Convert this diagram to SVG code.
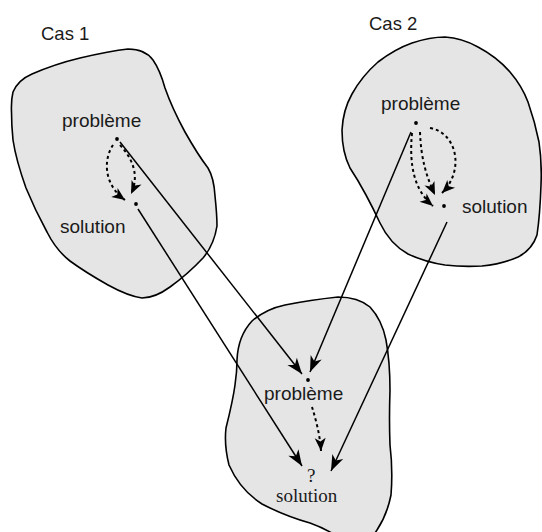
<svg xmlns="http://www.w3.org/2000/svg" width="542" height="532" viewBox="0 0 542 532">
  <style>
    .blob { fill: #e5e5e5; stroke: #000; stroke-width: 1.6; stroke-linejoin: round; }
    .sans { font-family: "Liberation Sans", Arial, Helvetica, sans-serif; font-size: 19px; fill: #1a1a1a; }
    .title { font-family: "Liberation Sans", Arial, Helvetica, sans-serif; font-size: 18.5px; fill: #1a1a1a; }
    .serif { font-family: "Liberation Serif", "Times New Roman", serif; font-size: 19px; fill: #1a1a1a; }
    .dot { fill: #000; }
    .link { fill: none; stroke: #000; stroke-width: 1.5; marker-end: url(#head); }
    .derive { fill: none; stroke: #000; stroke-width: 2; stroke-dasharray: 3 3; marker-end: url(#headSmall); }
  </style>
  <defs>
    <marker id="head" markerUnits="userSpaceOnUse" viewBox="-17 -8 18 16" refX="0" refY="0" markerWidth="18" markerHeight="16" orient="auto">
      <path d="M0,0 L-16,-6 L-11.5,0 L-16,6 Z" fill="#000"/>
    </marker>
    <marker id="headSmall" markerUnits="userSpaceOnUse" viewBox="-15 -7 16 14" refX="0" refY="0" markerWidth="16" markerHeight="14" orient="auto">
      <path d="M0,0 L-13,-5.5 L-9.5,0 L-13,5.5 Z" fill="#000"/>
    </marker>
  </defs>

  <!-- Case 1 -->
  <g id="cas1">
    <path class="blob" d="M 11.5,112 Q 11,100 13,92 Q 18,80 32,74 Q 55,64 80,58 Q 110,51 128,49 Q 145,49 153,60 Q 160,70 165,88 Q 172,108 185,132 Q 198,155 208,168 Q 214,178 215,196 Q 217,215 217,226 Q 214,245 203,258 Q 188,274 170,287 Q 155,298 142,298 Q 128,296 108,285 Q 85,272 70,261 Q 56,250 47,232 Q 35,210 26,188 Q 16,160 13,140 Q 11.5,125 11.5,112 Z"/>
    <text class="title" x="41" y="40">Cas 1</text>
    <g id="cas1-probleme">
      <text class="sans" x="62" y="127">problème</text>
      <circle class="dot" cx="117" cy="139" r="1.9"/>
    </g>
    <g id="cas1-solution">
      <text class="sans" x="60" y="233">solution</text>
      <circle class="dot" cx="136" cy="204" r="1.9"/>
    </g>
  </g>

  <!-- Case 2 -->
  <g id="cas2">
    <path class="blob" d="M 342,130 Q 343,110 352,94 Q 362,76 378,62 Q 395,49 412,43 Q 430,37 445,37 Q 462,38 478,47 Q 497,57 510,72 Q 522,86 528,102 Q 535,122 539,142 Q 542,162 541,185 Q 540,215 537,235 Q 532,250 518,257 Q 502,264 482,266 Q 462,267 445,265 Q 425,262 408,254 Q 390,244 380,223 Q 373,208 366,195 Q 358,180 350,168 Q 342,152 342,130 Z"/>
    <text class="title" x="369" y="30">Cas 2</text>
    <g id="cas2-probleme">
      <text class="sans" x="381" y="110">problème</text>
      <circle class="dot" cx="416" cy="123" r="1.9"/>
    </g>
    <g id="cas2-solution">
      <text class="sans" x="462" y="213">solution</text>
      <circle class="dot" cx="444" cy="206" r="1.9"/>
    </g>
  </g>

  <!-- New case -->
  <g id="nouveau">
    <path class="blob" d="M 237,360 Q 238,336 252,321 Q 266,309 285,305 Q 310,300 338,297 Q 358,297 370,307 Q 382,320 386,340 Q 390,362 390,390 Q 389,420 390,445 Q 393,470 391,495 Q 387,515 377,530 Q 368,545 350,545 Q 330,530 310,523 Q 285,516 262,504 Q 240,490 229,465 Q 224,445 226,428 Q 233,400 235,385 Q 237,372 237,360 Z"/>
    <g id="nouveau-probleme">
      <text class="sans" x="264" y="400">problème</text>
      <circle class="dot" cx="308" cy="380" r="1.9"/>
    </g>
    <g id="nouveau-solution">
      <text class="serif" x="307" y="482">?</text>
      <text class="serif" x="276" y="502">solution</text>
    </g>
  </g>

  <!-- Connectors -->
  <g id="connectors">
    <path class="link" d="M 120,142 L 302,374"/>
    <path class="link" d="M 138,209 L 302,466"/>
    <path class="link" d="M 411,132 L 310,372"/>
    <path class="link" d="M 447,222 L 331,471"/>

    <path class="derive" d="M 113,145 C 103,160 104,185 125,200"/>
    <path class="derive" d="M 120,145 C 132,158 140,175 131,194"/>
    <path class="derive" d="M 412,133 C 409,165 414,190 433,206"/>
    <path class="derive" d="M 420,132 C 421,160 427,178 435,195"/>
    <path class="derive" d="M 430,128 C 457,133 465,170 442,193"/>
    <path class="derive" d="M 312,407 C 316,420 320,435 321,451"/>
  </g>
</svg>
